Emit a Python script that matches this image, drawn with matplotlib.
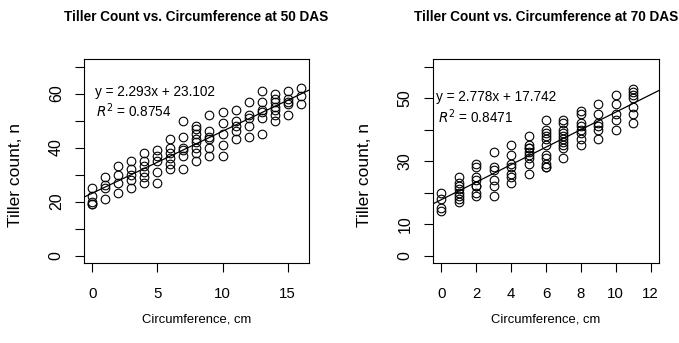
import numpy as np
import matplotlib
matplotlib.use("Agg")
import matplotlib.pyplot as plt

plt.rcParams['font.family'] = ['Liberation Sans', 'DejaVu Sans']

# 50 DAS: circumference (cm) -> tiller counts
x50 = [0]*5 + [1]*4 + [2]*4 + [3]*5 + [4]*6 + [5]*5 + [6]*6 + [7]*6 + [8]*8 \
    + [9]*6 + [10]*5 + [11]*5 + [12]*5 + [13]*6 + [14]*7 + [15]*5 + [16]*3
y50 = [25, 22, 20, 19, 19,
       29, 26, 25, 21,
       33, 30, 27, 23,
       35, 32, 30, 28, 25,
       38, 35, 33, 31, 29, 27,
       39, 37, 35, 31, 27,
       43, 40, 38, 36, 34, 32,
       50, 44, 40, 39, 37, 32,
       48, 47, 45, 43, 42, 40, 38, 35,
       52, 46, 44, 43, 40, 37,
       53, 49, 45, 41, 37,
       54, 50, 48, 46, 43,
       57, 52, 51, 48, 44,
       61, 57, 54, 53, 51, 45,
       60, 58, 57, 55, 54, 52, 50,
       61, 58, 57, 56, 52,
       62, 59, 56]
slope50, icept50, r2_50 = 2.293, 23.102, 0.8754

# 70 DAS
x70 = [0]*4 + [1]*8 + [2]*8 + [3]*6 + [4]*7 + [5]*9 + [6]*11 + [7]*10 \
    + [8]*8 + [9]*6 + [10]*5 + [11]*7
y70 = [20, 18, 15, 14,
       25, 23, 22, 21, 20, 19, 18, 17,
       29, 28, 25, 24, 22, 22, 20, 19,
       33, 28, 27, 24, 22, 19,
       35, 32, 29, 28, 26, 25, 23,
       38, 35, 34, 34, 33, 32, 31, 29, 26,
       43, 40, 39, 38, 37, 35, 32, 31, 29, 28, 28,
       43, 42, 40, 39, 38, 37, 36, 35, 34, 31,
       46, 45, 42, 41, 40, 39, 37, 35,
       48, 45, 42, 41, 40, 37,
       51, 48, 45, 43, 40,
       53, 52, 51, 50, 47, 45, 42]
slope70, icept70, r2_70 = 2.778, 17.742, 0.8471

fig = plt.figure(figsize=(6.79, 3.43), dpi=100)
ax1 = fig.add_axes([0.1237, 0.233, 0.3313, 0.595])
ax2 = fig.add_axes([0.6377, 0.233, 0.3328, 0.595])


def panel(ax, x, y, slope, icept, r2, title, xmax, ymax, xticks, ylabels, txt):
    ax.plot(x, y, 'o', mfc='none', mec='black', ms=6.2, mew=0.8)
    ax.axline((0, icept), slope=slope, color='black', lw=0.9)
    ax.set_xlim(-0.04 * xmax, xmax * 1.04)
    ax.set_ylim(-0.04 * ymax, ymax * 1.04)
    ax.set_xticks(xticks)
    ax.set_xticklabels([str(v) for v in xticks], fontsize=10.8)
    yt = np.arange(0, ymax + 1, 10)
    ax.set_yticks(yt)
    ax.set_yticklabels([str(v) if v in ylabels else '' for v in yt],
                       rotation=90, va='center', fontsize=11.5)
    ax.tick_params(axis='x', direction='out', length=6.5, width=0.8, pad=11)
    ax.tick_params(axis='y', direction='out', length=6.5, width=0.8, pad=8)
    for s in ax.spines.values():
        s.set_linewidth(0.8)
    ax.set_title(title, fontsize=9.8, fontweight='bold', pad=27)
    ax.set_xlabel('Circumference, cm', fontsize=9.4, labelpad=9)
    ax.set_ylabel('Tiller count, n', fontsize=12.5)
    ax.yaxis.set_label_coords(-0.272, 0.43)
    tx, ty1, ty2 = txt
    ax.text(tx, ty1, 'y = %.3fx + %.3f' % (slope, icept),
            fontsize=9.8, va='center')
    ax.text(tx + 0.1, ty2, '$R^2$ = %.4f' % r2, fontsize=9.8, va='center')


panel(ax1, x50, y50, slope50, icept50, r2_50,
      'Tiller Count vs. Circumference at 50 DAS', 16, 70, [0, 5, 10, 15],
      [0, 20, 40, 60], (0.2, 60.4, 53.7))
panel(ax2, x70, y70, slope70, icept70, r2_70,
      'Tiller Count vs. Circumference at 70 DAS', 12, 60, list(range(0, 13, 2)),
      [0, 10, 30, 50], (-0.3, 50.3, 44))

fig.savefig('out.png', dpi=100)
